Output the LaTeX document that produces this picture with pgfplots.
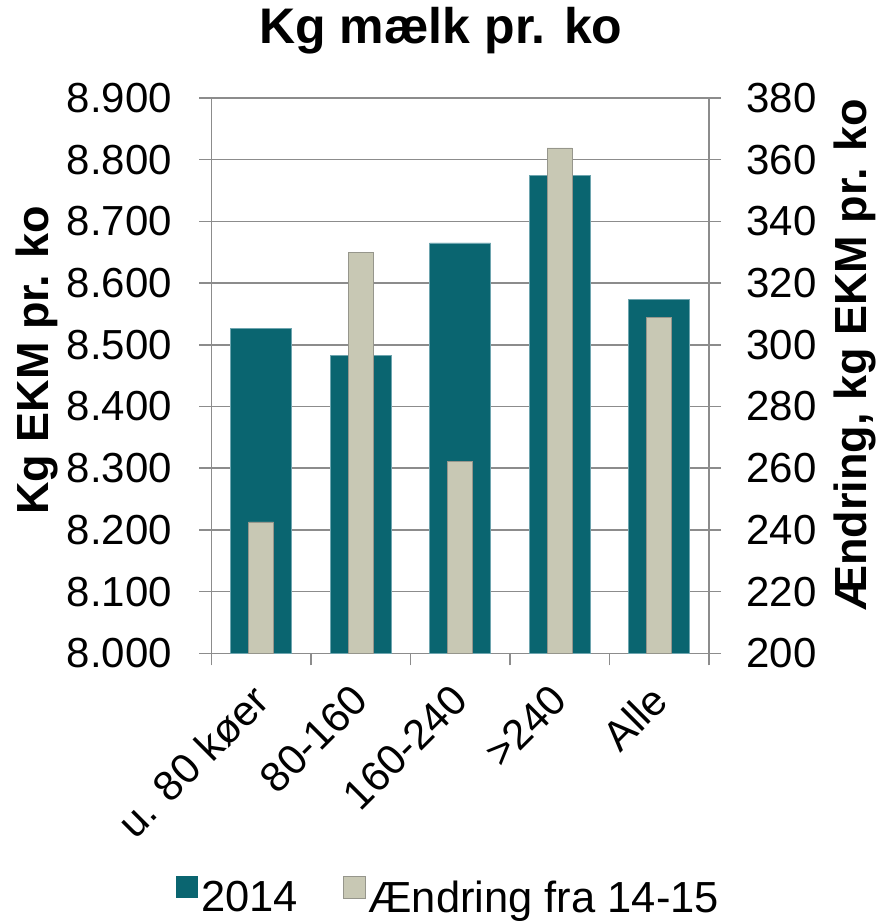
\documentclass[border=0pt]{standalone}
\usepackage{pgfplots}
\pgfplotsset{compat=1.18}
\usepackage{fontspec}
\setmainfont{Liberation Sans}
\definecolor{teal14}{RGB}{10,101,112}
\definecolor{beigeC}{RGB}{200,200,180}
\definecolor{gridgray}{RGB}{140,140,140}
\begin{document}
\begin{tikzpicture}
\path[use as bounding box] (-211.3bp,-267.7bp) rectangle (670.7bp,653.3bp);
\pgfplotsset{
  base/.style={
    scale only axis, width=497.7bp, height=555.3bp,
    xmin=-0.5, xmax=4.5,
    ybar,
    tick align=outside,
    major tick length=12bp,
    minor tick length=12bp,
    axis line style={gridgray, line width=1.5bp, -},
    tick style={gridgray, line width=1.5bp},
    ticklabel style={font=\fontsize{42bp}{42bp}\selectfont},
    label style={font=\bfseries\fontsize{45bp}{45bp}\selectfont},
    /pgf/number format/assume math mode=true,
  }
}
\begin{axis}[base,
  axis x line*=bottom, axis y line*=left,
  ymin=8000, ymax=8900, ytick={8000,8100,...,8900},
  yticklabel style={/pgf/number format/fixed, /pgf/number format/precision=0, /pgf/number format/1000 sep={.}, xshift=-24bp},
  ymajorgrids, grid style={gridgray, line width=1.5bp},
  xtick={0,1,2,3,4},
  xticklabels={u. 80 køer, 80-160, 160-240, >240, Alle},
  major x tick style={draw=none},
  minor xtick={-0.5,0.5,...,4.5},
  xticklabel style={xshift=-11bp, yshift=-12bp, rotate=45, anchor=north east},
  ylabel={Kg EKM pr. ko},
  ylabel style={at={(axis description cs:-0.35,0.528)}, anchor=center},
  title={Kg mælk pr. ko},
  title style={at={(axis description cs:0.4615,1.11)}, anchor=center, font=\bfseries\fontsize{50bp}{50bp}\selectfont},
]
\addplot[fill=teal14, draw={rgb,255:red,110;green,165;blue,175}, line width=0.6bp, bar width=61bp] coordinates {(0,8527) (1,8483) (2,8665) (3,8775) (4,8573)};
\end{axis}
\begin{axis}[base,
  axis x line=none, axis y line*=right,
  ymin=200, ymax=380, ytick={200,220,...,380},
  yticklabel style={xshift=22bp},
  ylabel={Ændring, kg EKM pr. ko},
  ylabel style={at={(axis description cs:1.293,0.537)}, anchor=center, rotate=0},
  legend columns=2,
  legend style={draw=none, fill=none, at={(axis description cs:0.4776,-0.437)}, anchor=center,
    font=\fontsize{43.5bp}{43.5bp}\selectfont, nodes={inner xsep=3bp},
    /tikz/every even column/.append style={column sep=42bp}},
  legend image code/.code={\fill[#1] (0bp,-1bp) rectangle (22bp,21bp);},
]
\addlegendimage{fill=teal14, draw=none}
\addplot[fill=beigeC, draw={rgb,255:red,150;green,150;blue,140}, line width=0.6bp, bar width=25bp] coordinates {(0,242.6) (1,329.9) (2,262.3) (3,363.8) (4,308.9)};
\legend{2014, Ændring fra 14-15}
\end{axis}
\end{tikzpicture}
\end{document}
